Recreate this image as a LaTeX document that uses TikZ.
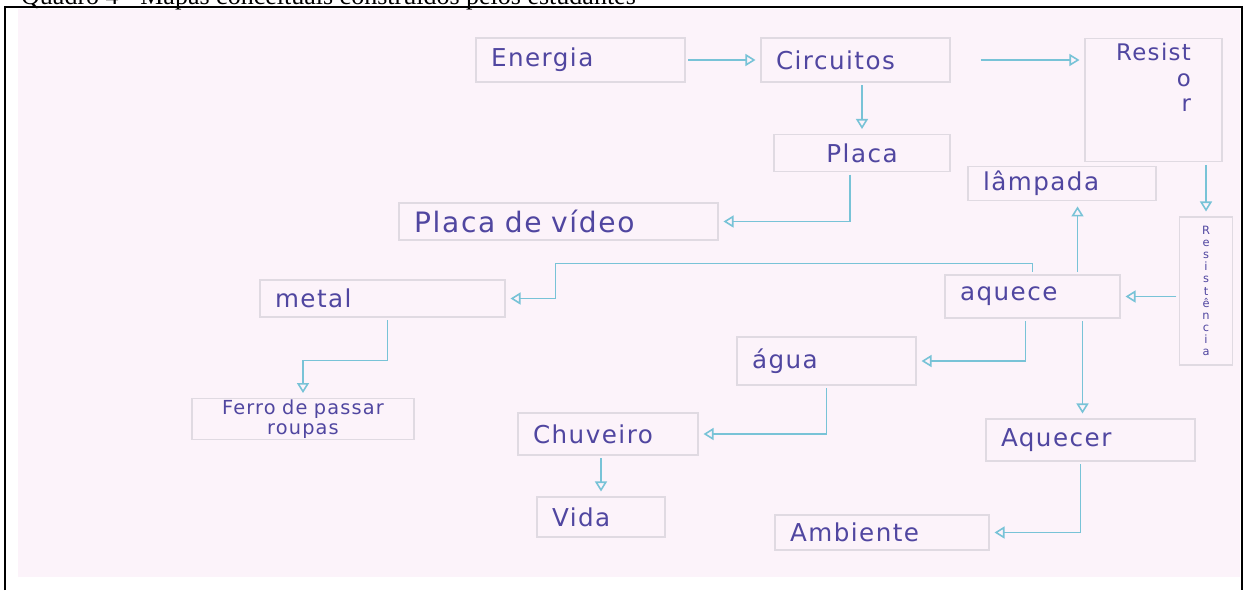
\documentclass[tikz,border=0pt]{standalone}
\usepackage{fontspec}
\setmainfont{Liberation Serif}
\newfontfamily\hand[LetterSpace=6]{DejaVu Sans}
\usetikzlibrary{arrows.meta}
\definecolor{paper}{RGB}{252,243,250}
\definecolor{ink}{RGB}{80,70,160}
\definecolor{wire}{RGB}{120,195,215}
\definecolor{boxline}{RGB}{224,218,226}
\begin{document}
\begin{tikzpicture}[>={Triangle[open,length=0.2cm,width=0.24cm]},
  concept/.style={draw=boxline, line width=0.6pt, text=ink, font=\hand\fontsize{14}{16}\selectfont,
    inner xsep=0.3cm, inner ysep=0.1cm, align=left},
  link/.style={->, draw=wire, line width=0.9pt, shorten >=0.1cm, shorten <=0.05cm},
  frame/.style={draw=black, line width=0.9pt}]
\useasboundingbox (0,0) rectangle (24.92,-11.8);
\fill[paper] (0.36,-0.18) rectangle (24.8,-11.54);
\draw[frame] (0.1,-11.8) -- (0.1,-0.14) -- (24.84,-0.14) -- (24.84,-11.8);
\node[anchor=base west, font=\fontsize{14.8}{16}\selectfont] (caption) at (0.3,-0.08)
  {Quadro 4 - Mapas conceituais construídos pelos estudantes};

\node[concept, text width=3.58cm, minimum height=0.88cm] (energia) at (11.61,-1.2) {Energia};
\node[concept, text width=3.18cm, minimum height=0.88cm] (circuitos) at (17.11,-1.2) {Circuitos};
\node[concept, anchor=north, align=right, text depth=0.9cm, minimum width=2.74cm,
  font=\hand\fontsize{13}{15}\selectfont] (resistor) at (23.07,-0.76)
  {\shortstack[r]{Resist\\[4pt]o\\[4pt]r}};
\node[concept, minimum width=3.52cm, minimum height=0.74cm] (placa) at (17.24,-3.06) {Placa};
\node[concept, text width=5.78cm, minimum height=0.74cm, font=\hand\fontsize{16}{18}\selectfont] (video) at (11.17,-4.43) {Placa de vídeo};
\node[concept, text width=3.16cm, minimum height=0.66cm] (lampada) at (21.24,-3.67) {lâmpada};
\node[concept, align=center, minimum width=1.06cm, minimum height=2.96cm, inner xsep=0.1cm,
  font=\hand\fontsize{6.5}{6.9}\selectfont] (resistencia) at (24.12,-5.82)
  {R\\e\\s\\i\\s\\t\\ê\\n\\c\\i\\a};
\node[concept, text width=2.9cm, minimum height=0.86cm] (aquece) at (20.65,-5.93) {aquece};
\node[concept, text width=4.3cm, minimum height=0.74cm] (metal) at (7.65,-5.97) {metal};
\node[concept, text width=2.98cm, minimum height=0.96cm] (agua) at (16.53,-7.22) {água};
\node[concept, text width=3.84cm, align=center, minimum height=0.68cm, inner ysep=0.02cm,
  font=\hand\fontsize{11}{11.5}\selectfont] (ferro) at (6.06,-8.38) {Ferro de passar\\roupas};
\node[concept, text width=3.0cm, minimum height=0.84cm] (chuveiro) at (12.16,-8.68) {Chuveiro};
\node[concept, text width=1.96cm, minimum height=0.8cm] (vida) at (12.02,-10.34) {Vida};
\node[concept, text width=3.58cm, minimum height=0.84cm] (aquecer) at (21.81,-8.8) {Aquecer};
\node[concept, text width=3.68cm, minimum height=0.7cm] (ambiente) at (17.64,-10.65) {Ambiente};

\draw[link] (energia) -- (circuitos);
\draw[link, shorten <=0.6cm] (circuitos.east) -- (circuitos.east -| resistor.west);
\draw[link] (circuitos.south -| placa.north) -- (placa.north);
\draw[link] ([xshift=-0.24cm]placa.south) |- (video.east);
\draw[link] (resistor.south -| resistencia.north) -- (resistencia.north);
\draw[link] (resistencia.west |- aquece.east) -- (aquece.east);
\draw[link] ([xshift=0.9cm]aquece.north) -- ([xshift=0.9cm]aquece.north |- lampada.south);
\draw[link] (aquece.north) -- ++(0,0.22) -| ([xshift=1cm]metal.east) -- (metal.east);
\draw[link] ([xshift=0.1cm]metal.south) -- ++(0,-0.86) -| (ferro.north);
\draw[link] ([xshift=-0.14cm]aquece.south) |- (agua.east);
\draw[link] ([xshift=1cm]aquece.south) -- ([xshift=1cm]aquece.south |- aquecer.north);
\draw[link] (agua.south) |- (chuveiro.east);
\draw[link] (chuveiro.south -| vida.north) -- (vida.north);
\draw[link] ([xshift=-0.2cm]aquecer.south) |- (ambiente.east);
\end{tikzpicture}
\end{document}
